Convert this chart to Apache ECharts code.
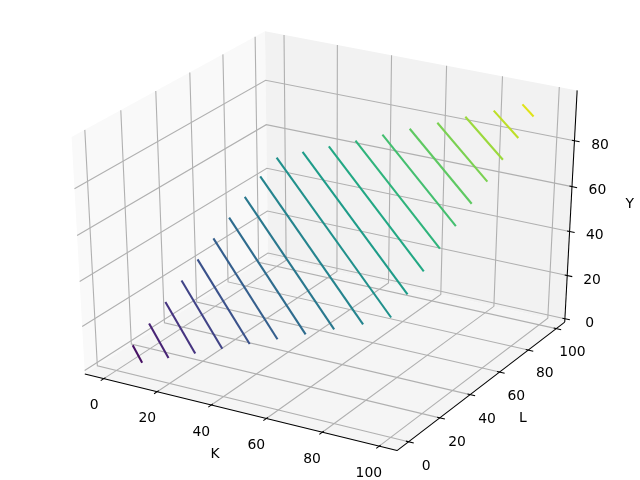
<!DOCTYPE html>
<html><head><meta charset="utf-8">
<style>html,body{margin:0;padding:0;background:#fff}#c{width:640px;height:480px}</style>
<script src="https://cdn.jsdelivr.net/npm/echarts@6/dist/echarts.min.js"></script>
</head><body><div id="c"></div>
<script>
// ---- data ----
const kTicks = [0, 20, 40, 60, 80, 100];
const lTicks = [0, 20, 40, 60, 80, 100];
const yTicks = [0, 20, 40, 60, 80];
const levels = [5, 10, 15, 20, 25, 30, 35, 40, 45, 50, 55, 60, 65, 70, 75, 80, 85, 90, 95];
const startK = [0, 0, 0, 0, 0, 0, 0, 0, 0, 1, 11, 21, 31, 41, 51, 61, 71, 81, 91];
const startL = [10, 20, 30, 40, 50, 60, 70, 80, 90, 99, 99, 99, 99, 99, 99, 99, 99, 99, 99];
const endK = [10, 20, 30, 40, 50, 60, 70, 80, 90, 99, 99, 99, 99, 99, 99, 99, 99, 99, 99];
const endL = [0, 0, 0, 0, 0, 0, 0, 0, 0, 1, 11, 21, 31, 41, 51, 61, 71, 81, 91];
const colors = ['#471164','#482475','#463480','#414487','#3b528b','#355f8d','#2f6c8e','#2a788e','#25848e','#21918c',
                '#1e9c89','#22a884','#2fb47c','#44bf70','#5ec962','#7ad151','#9bd93c','#bddf26','#dfe318'];

// ---- 3D view (elevation 30, azimuth -60, distance 10) ----
const kLim = [-4.95, 103.95], lLim = [-4.95, 103.95], yLim = [0.5, 99.5];
const LO = -1 / 48, HI = 49 / 48, OUT = 1 / 60, IN = 1 / 120;
const SX = 640 / 0.185, SY = 480 / 0.185, OX = 0.095 * SX, OY = 480 - 0.095 * SY;
const U = [0.8660254, 0.5, 0], V = [-0.25, 0.4330127, 0.8660254], W = [0.4330127, -0.75, 0.5];
const dot = (a, b) => a[0] * b[0] + a[1] * b[1] + a[2] * b[2];
function projT(a, b, c) {
  const d = [a - 0.5, b - 0.5, c - 0.5], D = 10 - dot(W, d);
  return [OX + SX * dot(U, d) / D, OY - SY * dot(V, d) / D];
}
const tK = v => (v - kLim[0]) / (kLim[1] - kLim[0]);
const tL = v => (v - lLim[0]) / (lLim[1] - lLim[0]);
const tY = v => (v - yLim[0]) / (yLim[1] - yLim[0]);

// ---- frame geometry ----
const panes = [
  { color: '#f9f9f9', pts: [[LO, LO, LO], [LO, HI, LO], [LO, HI, HI], [LO, LO, HI]] },
  { color: '#f2f2f2', pts: [[LO, HI, LO], [HI, HI, LO], [HI, HI, HI], [LO, HI, HI]] },
  { color: '#f5f5f5', pts: [[LO, LO, LO], [HI, LO, LO], [HI, HI, LO], [LO, HI, LO]] }
].map(p => ({ color: p.color, pts: p.pts.map(q => projT(...q)) }));
const gridLines = [];
kTicks.forEach(k => { const t = tK(k); gridLines.push([[t, LO, LO], [t, HI, LO], [t, HI, HI]]); });
lTicks.forEach(l => { const t = tL(l); gridLines.push([[HI, t, LO], [LO, t, LO], [LO, t, HI]]); });
yTicks.forEach(y => { const t = tY(y); gridLines.push([[LO, LO, t], [LO, HI, t], [HI, HI, t]]); });
const inkLines = [
  [[LO, LO, LO], [HI, LO, LO]], [[HI, LO, LO], [HI, HI, LO]], [[HI, HI, LO], [HI, HI, HI]]
];
kTicks.forEach(k => { const t = tK(k); inkLines.push([[t, LO - OUT, LO], [t, LO + IN, LO]]); });
lTicks.forEach(l => { const t = tL(l); inkLines.push([[HI + OUT, t, LO], [HI - IN, t, LO]]); });
yTicks.forEach(y => { const t = tY(y); inkLines.push([[HI + OUT, HI, t], [HI - IN, HI, t]]); });
const toPx = ls => ls.map(l => l.map(q => projT(...q)));
const gridPx = toPx(gridLines), inkPx = toPx(inkLines);

const texts = [];
kTicks.forEach(k => texts.push({ text: String(k), at: projT(tK(k), LO - 0.0575, LO - 0.0905) }));
lTicks.forEach(l => texts.push({ text: String(l), at: projT(HI + 0.058, tL(l), LO - 0.093) }));
yTicks.forEach(y => texts.push({ text: String(y), at: projT(HI + 0.0824, HI, tY(y) + 0.004) }));
texts.push({ text: 'K', at: projT(0.5, LO - 0.125, LO - 0.123) });
texts.push({ text: 'L', at: projT(HI + 0.13, 0.5, LO - 0.117) });
texts.push({ text: 'Y', at: projT(HI + 0.188, HI, 0.574) });

const polyItem = (list, style) => (params, api) => ({
  type: 'polyline',
  shape: { points: list[params.dataIndex].map(p => api.coord(p)) },
  style: Object.assign({ fill: null }, style),
  silent: true
});
const idx = list => list.map((_, i) => [i]);

const series = [
  { type: 'custom', silent: true, z: 1, data: idx(panes), encode: { x: [], y: [] },
    renderItem: (params, api) => ({
      type: 'polygon',
      shape: { points: panes[params.dataIndex].pts.map(p => api.coord(p)) },
      style: { fill: panes[params.dataIndex].color, stroke: null }
    }) },
  { type: 'custom', silent: true, z: 2, data: idx(gridPx), encode: { x: [], y: [] },
    renderItem: polyItem(gridPx, { stroke: '#b0b0b0', lineWidth: 1.1 }) },
  { type: 'custom', silent: true, z: 3, data: idx(inkPx), encode: { x: [], y: [] },
    renderItem: polyItem(inkPx, { stroke: '#000000', lineWidth: 1.05 }) },
  { type: 'custom', silent: true, z: 5, data: idx(texts), encode: { x: [], y: [] },
    renderItem: (params, api) => {
      const t = texts[params.dataIndex], c = api.coord(t.at);
      return { type: 'text', style: { text: t.text, x: c[0], y: c[1], align: 'center', verticalAlign: 'middle',
        font: '13.9px "DejaVu Sans"', fill: '#000000' } };
    } }
];
levels.forEach((lv, i) => {
  series.push({
    type: 'line', name: String(lv), z: 4, silent: true, showSymbol: false, animation: false,
    lineStyle: { color: colors[i], width: 2.08, cap: 'butt' },
    data: [projT(tK(startK[i]), tL(startL[i]), tY(lv)), projT(tK(endK[i]), tL(endL[i]), tY(lv))]
  });
});

const chart = echarts.init(document.getElementById('c'), null, { renderer: 'canvas', width: 640, height: 480 });
chart.setOption({
  animation: false,
  backgroundColor: '#ffffff',
  grid: { left: 0, right: 0, top: 0, bottom: 0 },
  xAxis: { type: 'value', min: 0, max: 640, show: false },
  yAxis: { type: 'value', min: 0, max: 480, inverse: true, show: false },
  series: series
});
</script></body></html>
